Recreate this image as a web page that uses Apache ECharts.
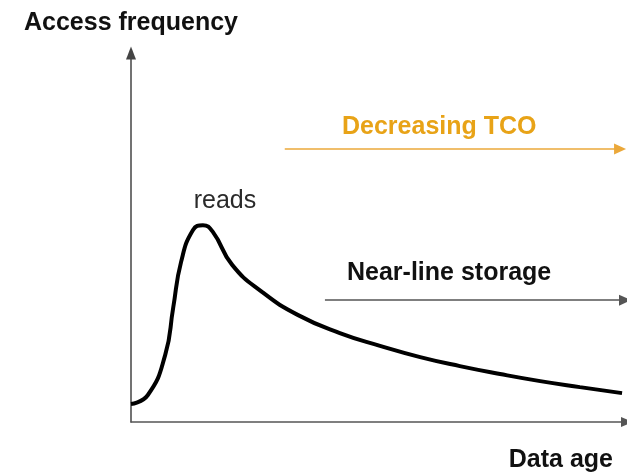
<!DOCTYPE html>
<html>
<head>
<meta charset="utf-8">
<script src="https://cdn.jsdelivr.net/npm/echarts@6/dist/echarts.min.js"></script>
<style>
  html, body { margin: 0; padding: 0; background: #fff; }
  #chart { width: 627px; height: 473px; }
</style>
</head>
<body>
<div id="chart"></div>
<script>
// data age (x) and access frequency (y), both on a 0..100 scale
const ageValues = [0, 3.4, 6.9, 8.5, 10.1, 12.5, 14.5, 16.5, 20.4, 26.4, 33.7, 42.1, 50.2, 58.3, 66.3, 74.4, 82.5, 90.5, 99.0];
const frequencyValues = [4.8, 7.2, 17.9, 30.4, 42.7, 51.2, 52.5, 50.7, 41.9, 34.7, 28.5, 23.7, 20.3, 17.3, 14.9, 12.8, 10.9, 9.3, 7.7];
const peakIndex = 6;

// arrows: [startAge, endAge, level]
const tcoArrow = [31.0, 98.6, 72.8];
const nearLineArrow = [39.1, 99.6, 32.5];

const font = "'Liberation Sans', Arial, sans-serif";

const chart = echarts.init(document.getElementById("chart"));

chart.setOption({
  animation: false,
  grid: { left: 131, right: 0, top: 53, bottom: 51 },
  xAxis: {
    type: "value",
    min: 0,
    max: 100,
    name: "Data age",
    nameLocation: "end",
    nameGap: -14,
    nameTextStyle: {
      align: "right",
      verticalAlign: "top",
      padding: [26, 0, 0, 0],
      color: "#111",
      fontWeight: "bold",
      fontFamily: font,
      fontSize: 25,
    },
    axisLine: {
      lineStyle: { color: "#555", width: 1.5 },
      symbol: ["none", "triangle"],
      symbolSize: [10, 12],
    },
    axisTick: { show: false },
    axisLabel: { show: false },
    splitLine: { show: false },
  },
  yAxis: {
    type: "value",
    min: 0,
    max: 98.4,
    name: "Access frequency",
    nameLocation: "end",
    nameGap: 30,
    nameTextStyle: {
      align: "center",
      verticalAlign: "middle",
      color: "#111",
      fontWeight: "bold",
      fontFamily: font,
      fontSize: 25,
    },
    axisLine: {
      lineStyle: { color: "#444", width: 1.5 },
      symbol: ["none", "triangle"],
      symbolSize: [10, 13],
    },
    axisTick: { show: false },
    axisLabel: { show: false },
    splitLine: { show: false },
  },
  series: [
    {
      type: "line",
      data: ageValues.map((x, i) => [x, frequencyValues[i]]),
      smooth: 0.5,
      symbol: "none",
      lineStyle: { color: "#000", width: 4 },
      markPoint: {
        silent: true,
        symbol: "circle",
        symbolSize: 0,
        data: [{ coord: [ageValues[peakIndex], frequencyValues[peakIndex]] }],
        label: {
          show: true,
          position: "top",
          formatter: "reads",
          distance: 12,
          offset: [22, 0],
          color: "#2a2a2a",
          fontFamily: font,
          fontSize: 25,
        },
      },
      markLine: {
        silent: true,
        symbol: ["none", "triangle"],
        symbolSize: [11, 12],
        label: { show: false },
        data: [
          [
            { coord: [tcoArrow[0], tcoArrow[2]], lineStyle: { color: "#eba83a", width: 1.5, type: "solid" }, itemStyle: { color: "#e8a020" } },
            { coord: [tcoArrow[1], tcoArrow[2]] },
          ],
          [
            { coord: [nearLineArrow[0], nearLineArrow[2]], lineStyle: { color: "#555", width: 1.5, type: "solid" }, itemStyle: { color: "#000" } },
            { coord: [nearLineArrow[1], nearLineArrow[2]] },
          ],
        ],
      },
    },
  ],
  graphic: [
    {
      type: "text",
      left: 342,
      top: 115,
      style: {
        text: "Decreasing TCO",
        fill: "#e8a317",
        font: "bold 25px " + font,
      },
    },
    {
      type: "text",
      left: 347,
      top: 261,
      style: {
        text: "Near-line storage",
        fill: "#111",
        font: "bold 25px " + font,
      },
    },
  ],
});
</script>
</body>
</html>
